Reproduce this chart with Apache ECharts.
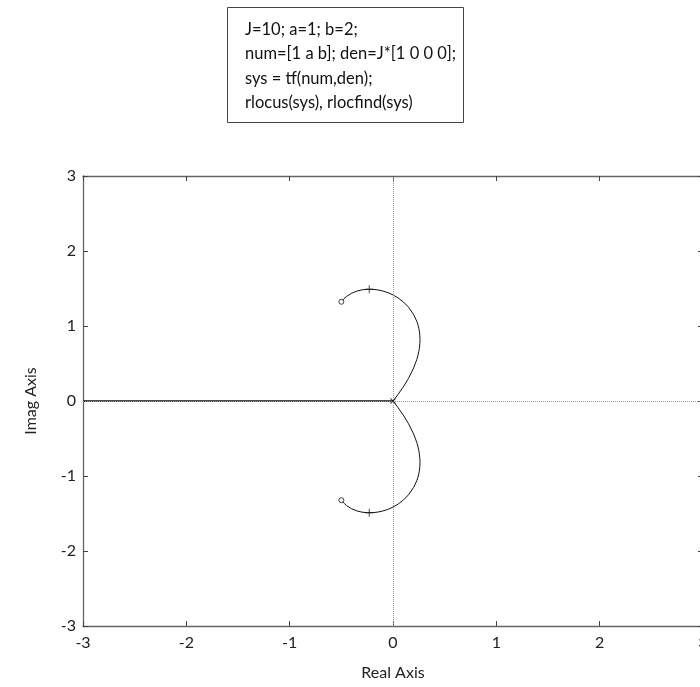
<!DOCTYPE html>
<html>
<head>
<meta charset="utf-8">
<script src="https://cdn.jsdelivr.net/npm/echarts@6/dist/echarts.min.js"></script>
<style>
html,body{margin:0;padding:0;background:#fff;}
#chart{width:700px;height:687px;}
</style>
</head>
<body>
<div id="chart"></div>
<script>
// ---- data ----
var codeLines = [
  'J=10; a=1; b=2;',
  'num=[1 a b]; den=J*[1 0 0 0];',
  'sys = tf(num,den);',
  'rlocus(sys), rlocfind(sys)'
];
var xTicks = [-3, -2, -1, 0, 1, 2, 3];
var yTicks = [-3, -2, -1, 0, 1, 2, 3];
var upperBranch = [[0,0],[0.02,0.035],[0.05,0.090],[0.10,0.189],[0.15,0.302],[0.20,0.441],[0.23,0.552],[0.24,0.601],[0.25,0.661],[0.255,0.702],[0.26,0.768],[0.2612,0.819],[0.26,0.869],[0.255,0.931],[0.25,0.968],[0.24,1.022],[0.23,1.063],[0.20,1.151],[0.15,1.251],[0.10,1.321],[0.05,1.374],[0,1.414],[-0.05,1.445],[-0.10,1.467],[-0.15,1.482],[-0.20,1.489],[-0.25,1.489],[-0.30,1.482],[-0.35,1.465],[-0.40,1.437],[-0.45,1.394],[-0.48,1.356],[-0.49,1.341],[-0.50,1.323]];
var lowerBranch = [[0,0],[0.02,-0.035],[0.05,-0.090],[0.10,-0.189],[0.15,-0.302],[0.20,-0.441],[0.23,-0.552],[0.24,-0.601],[0.25,-0.661],[0.255,-0.702],[0.26,-0.768],[0.2612,-0.819],[0.26,-0.869],[0.255,-0.931],[0.25,-0.968],[0.24,-1.022],[0.23,-1.063],[0.20,-1.151],[0.15,-1.251],[0.10,-1.321],[0.05,-1.374],[0,-1.414],[-0.05,-1.445],[-0.10,-1.467],[-0.15,-1.482],[-0.20,-1.489],[-0.25,-1.489],[-0.30,-1.482],[-0.35,-1.465],[-0.40,-1.437],[-0.45,-1.394],[-0.48,-1.356],[-0.49,-1.341],[-0.50,-1.323]];
var realBranch = [[0,0],[-3,0]];
var poles = [[0,0]];
var zeros = [[-0.5,1.323],[-0.5,-1.323]];
var selected = [[-0.23,1.489],[-0.23,-1.489]];
var xName = 'Real Axis';
var yName = 'Imag Axis';

// ---- chart ----
var FONT = 'Lato, "Open Sans", sans-serif';
var chart = echarts.init(document.getElementById('chart'), null, {renderer:'canvas'});
var axisLine = {show:true, onZero:false, lineStyle:{color:'#666', width:1.3}};
var axisTick = {show:true, inside:true, length:5, lineStyle:{color:'#444', width:1}};
function mkX(pos, labels){
  return {
    type:'value', position:pos, min:xTicks[0], max:xTicks[xTicks.length-1], interval:1,
    axisLine:axisLine, axisTick:axisTick, splitLine:{show:false},
    axisLabel:{show:labels, color:'#222', fontSize:16, fontFamily:FONT, margin:9},
    name: labels ? xName : '', nameLocation:'middle', nameGap:47,
    nameTextStyle:{color:'#222', fontSize:16, fontFamily:FONT, verticalAlign:'middle'}
  };
}
function mkY(pos, labels){
  return {
    type:'value', position:pos, min:yTicks[0], max:yTicks[yTicks.length-1], interval:1,
    axisLine:axisLine, axisTick:axisTick, splitLine:{show:false},
    axisLabel:{show:labels, color:'#222', fontSize:16, fontFamily:FONT, margin:7},
    name: labels ? yName : '', nameLocation:'middle', nameGap:52,
    nameTextStyle:{color:'#222', fontSize:16, fontFamily:FONT, verticalAlign:'middle'}
  };
}
var plusPath = 'path://M0,4.4H10V5.6H0Z M4.4,0H5.6V10H4.4Z';
var crossPath = 'path://M0,1.2L1.2,0L10,8.8L8.8,10Z M8.8,0L10,1.2L1.2,10L0,8.8Z';
var option = {
  animation:false,
  backgroundColor:'#fff',
  grid:{left:83, right:-3, top:176, bottom:61, containLabel:false, outerBoundsMode:'none'},
  xAxis:[mkX('bottom', true), mkX('top', false)],
  yAxis:[mkY('left', true), mkY('right', false)],
  graphic:[
    {type:'rect', shape:{x:227.5, y:7.5, width:236, height:115},
     style:{fill:'#fff', stroke:'#444', lineWidth:1}},
    {type:'text', x:245, y:17,
     style:{text:codeLines.join('\n'), font:'16.5px ' + FONT, fill:'#111', lineHeight:24.5, verticalAlign:'top'}}
  ],
  series:[
    {type:'line', data:realBranch, showSymbol:false, symbol:'none', lineStyle:{color:'#111', width:1.3}, z:3,
     markLine:{silent:true, symbol:'none', label:{show:false},
       lineStyle:{type:'dotted', color:'#999', width:1},
       data:[{xAxis:0},{yAxis:0}]}},
    {type:'line', data:upperBranch, showSymbol:false, symbol:'none', lineStyle:{color:'#111', width:1}, z:3},
    {type:'line', data:lowerBranch, showSymbol:false, symbol:'none', lineStyle:{color:'#111', width:1}, z:3},
    {type:'scatter', data:zeros, symbol:'circle', symbolSize:5,
     itemStyle:{color:'#fff', borderColor:'#111', borderWidth:1}, z:5},
    {type:'scatter', data:selected, symbol:plusPath, symbolSize:8,
     itemStyle:{color:'#111'}, z:5},
    {type:'scatter', data:poles, symbol:crossPath, symbolSize:6,
     itemStyle:{color:'#111'}, z:5}
  ]
};
chart.setOption(option);
</script>
</body>
</html>
